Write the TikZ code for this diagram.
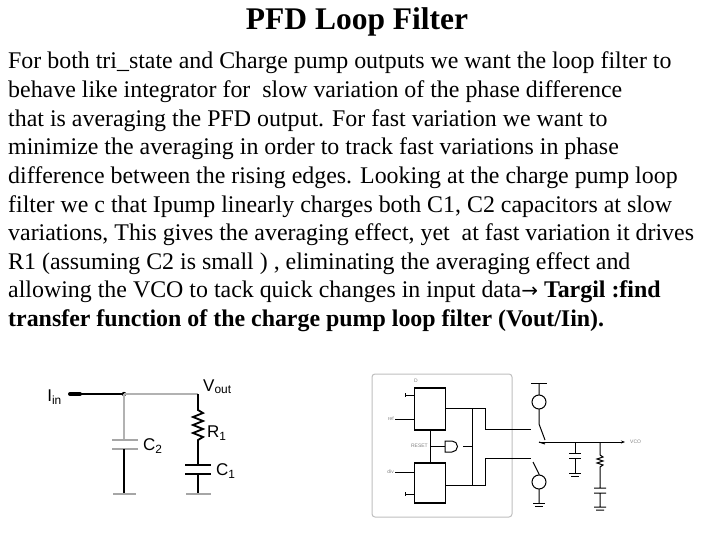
\documentclass[tikz,border=0pt]{standalone}
\usepackage{fontspec}
\setmainfont{Liberation Serif}
\setsansfont{Liberation Sans}
\newfontfamily\djv{DejaVu Sans}
\usetikzlibrary{arrows.meta}
\begin{document}
\begin{tikzpicture}[x=1pt,y=-1pt,
 txt/.style={anchor=base west,inner sep=0,font=\fontsize{23.9}{26}\selectfont},
 wire/.style={line width=1pt},
 gwire/.style={line width=1.3pt,gray!60},
 lab/.style={font=\sffamily\fontsize{17}{19}\selectfont,inner sep=0},
 tiny/.style={font=\sffamily\fontsize{5}{6}\selectfont,inner sep=0,gray}]
\useasboundingbox (0,0) rectangle (720,540);
\node[anchor=base,inner sep=0,font=\bfseries\fontsize{31.5}{34}\selectfont] (title) at (357,30) {PFD Loop Filter};
\foreach \t [count=\i] in {
{For both tri\_state and Charge pump outputs we want the loop filter to},
{behave like integrator for\ \ slow variation of the phase difference},
{that is averaging the PFD output. For fast variation we want to},
{minimize the averaging in order to track fast variations in phase},
{difference between the rising edges. Looking at the charge pump loop},
{filter we c that Ipump linearly charges both C1, C2 capacitors at slow},
{variations, This gives the averaging effect, yet\ \ at fast variation it drives},
{R1 (assuming C2 is small ) , eliminating the averaging effect and},
{allowing the VCO to tack quick changes in input data{\djv\fontsize{20}{22}\selectfont→} \textbf{Targil :find}},
{\textbf{transfer function of the charge pump loop filter (Vout/Iin).}}}
 \node[txt] (l\i) at (8,{69+28.6*(\i-1)}) {\t};
% left circuit
\node[lab,anchor=east] (iin) at (62,397) {I\textsubscript{in}};
\coordinate (t1) at (70,394); \coordinate (t2) at (80,394);
\draw[line width=4pt,line cap=round] (t1)--(t2);
\coordinate (n1) at (124,394); \coordinate (n2) at (198,394);
\draw[line width=2pt] (t2)--(n1);
\fill (n1) circle (2.2);
\draw[gwire] (n1)--(n2);
\node[lab,anchor=south west] (vout) at (203,394) {V\textsubscript{out}};
% C2
\coordinate (c2a) at (124,440); \coordinate (c2b) at (124,449); \coordinate (g2) at (124,494);
\draw[gwire] (n1)--(c2a);
\draw[line width=1.8pt,gray!70] (112,440)--(138,440) (112,449)--(138,449);
\draw[line width=1.8pt] (c2b)--(g2);
\draw[line width=1.6pt,gray!70] (113,494)--(136,494);
\node[lab,anchor=west] (c2l) at (143,446) {C\textsubscript{2}};
% R1
\coordinate (r1a) at (198,410); \coordinate (r1b) at (198,447);
\draw[line width=1.8pt] (n2)--(r1a) -- ++(5,3) -- ++(-10,4) -- ++(10,4) -- ++(-10,4) -- ++(10,4) -- ++(-10,4) -- ++(10,4) -- ++(-5,3) -- (r1b);
\node[lab,anchor=west] (r1l) at (207,433) {R\textsubscript{1}};
\coordinate (c1a) at (198,465); \coordinate (c1b) at (198,474); \coordinate (g1) at (198,494);
\draw[line width=1.8pt] (r1b)--(c1a) (c1b)--(g1);
\draw[line width=1.8pt] (185,465)--(211,465) (185,474)--(211,474);
\draw[line width=1.6pt,gray!70] (186,494)--(211,494);
\node[lab,anchor=west] (c1l) at (216,471) {C\textsubscript{1}};
% right circuit
\draw[gray!50,line width=1pt,rounded corners=3] (372,374) rectangle (512,517);
\node[draw,line width=1.2pt,minimum width=31,minimum height=42,inner sep=0] (ff1) at (430,409) {};
\node[draw,line width=1.2pt,minimum width=31,minimum height=40,inner sep=0] (ff2) at (430,483) {};
\node[tiny,anchor=west] at (ff1.north west) [yshift=7] {D};
\draw[wire] (405,395)--(414,395) (405,393)--(405,397);
\draw[wire] (395,419)--(414,419);
\node[tiny,anchor=east] at (394,419) {ref};
\draw[wire] (395,472)--(414,472);
\node[tiny,anchor=east] at (394,472) {div};
\draw[wire] (405,494)--(414,494) (405,492)--(405,496);
\draw[wire] (430,430)--(430,462);
\draw[wire] (430,446)--(445,446);
\node[tiny,anchor=east] at (428,446) {RESET};
\draw[wire] (445,441) -- (452,441) arc[start angle=-90,end angle=90,radius=5.5] -- (445,452) -- cycle;
\draw[wire] (445.5,408)--(485,408)--(485,429)--(531,429);
\draw[wire] (445.5,485)--(485,485)--(485,458)--(531,458);
\draw[wire] (472,408)--(472,485);
\draw[wire] (463,446)--(472,446);
\coordinate (vs1) at (539,383); \coordinate (vs2) at (539,503);
\draw[wire] (531,383)--(547,383);
\draw[wire] (vs1)--(539,424) -- (545,440) (539,442)--(545,444);
\draw[wire] (539,474)--(533,462) (539,474)--(vs2);
\draw[wire,fill=white] (539,402) circle (7);
\draw[wire,fill=white] (539,482) circle (7);
\draw[wire] (533,503)--(545,503) (535,506)--(543,506);
\coordinate (vco) at (625,442);
\draw[wire,-{Stealth[length=4]}] (539,442)--(vco);
\node[tiny,anchor=west] at (630,442) {VCO};
\draw[wire] (575,442)--(575,453) (569,453)--(581,453) (569,458)--(581,458) (575,458)--(575,473) (569,473)--(581,473) (571,476)--(579,476);
\draw[wire] (600,442)--(600,455) --++(3,2)--++(-6,2)--++(6,2)--++(-6,2)--++(6,2)--++(-3,2)--(600,488) (594,488)--(606,488) (594,493)--(606,493) (600,493)--(600,507) (594,507)--(606,507) (596,510)--(604,510);
\end{tikzpicture}
\end{document}
